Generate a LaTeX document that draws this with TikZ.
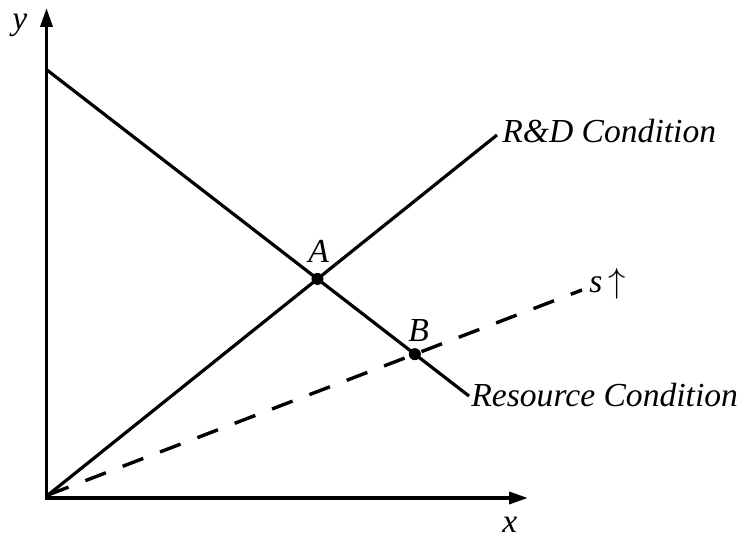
\documentclass[tikz,border=0pt]{standalone}
\usepackage{fontspec}
\setmainfont{Liberation Serif}
\usetikzlibrary{arrows.meta,intersections}
\begin{document}
\begin{tikzpicture}[x=0.5pt,y=-0.5pt,
  axis/.style={line width=1.8pt,-{Triangle[length=9.5pt,width=6pt]}},
  curveline/.style={line width=1.6pt},
  dashline/.style={line width=1.7pt,dash pattern=on 11pt off 9pt},
  lbl/.style={font=\fontsize{16.8}{20}\selectfont\itshape,inner sep=0pt,anchor=base west},
  dot/.style={circle,fill=black,inner sep=0pt,minimum size=6pt}]
\useasboundingbox (0,0) rectangle (741,539);
% axes
\coordinate (Cy) at (46.5,500);
\coordinate (Cx) at (45,498);
\coordinate (Ytip) at (46.5,8);
\coordinate (Xtip) at (528,498);
\draw[axis] (Cy) -- (Ytip);
\draw[axis] (Cx) -- (Xtip);
% lines
\coordinate (O) at (48,495);
\coordinate (Rs) at (47,70);
\coordinate (Re) at (469,396);
\coordinate (De) at (497,135);
\coordinate (Se) at (582,290);
\draw[curveline,name path=res] (Rs) -- (Re);
\draw[curveline,name path=rd] (O) -- (De);
\draw[dashline,name path=sl] (O) -- (Se);
\path[name intersections={of=res and rd,by=iA}];
\path[name intersections={of=res and sl,by=iB}];
\node[dot] (A) at (iA) {};
\node[dot] (B) at (iB) {};
% labels
\node[lbl] (ylab) at (12,30) {y};
\node[lbl] (xlab) at (502,533) {x};
\node[lbl] (Alab) at (308,263) {A};
\node[lbl] (Blab) at (408,342) {B};
\node[lbl] (rdlab) at (502,143) {R\&D Condition};
\node[lbl] (reslab) at (471,407) {Resource Condition};
\node[lbl] (slab) at (589,293) {s\,$\uparrow$};
\end{tikzpicture}
\end{document}
